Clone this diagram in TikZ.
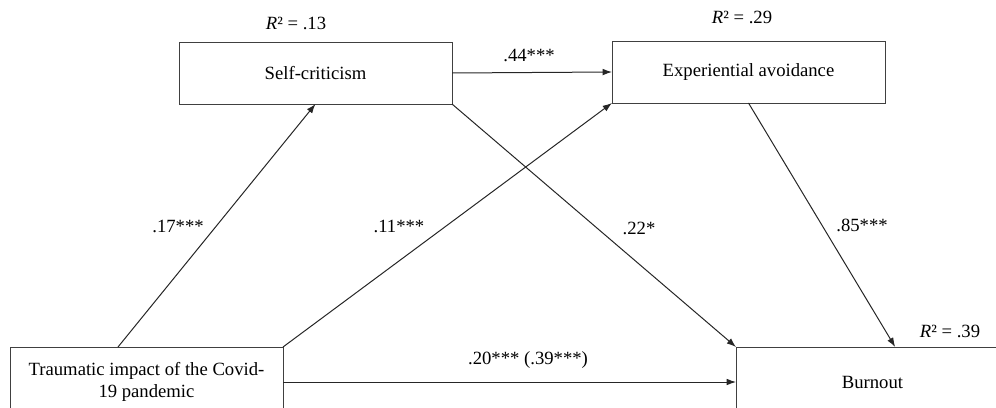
\documentclass[tikz,border=0pt]{standalone}
\usepackage{fontspec}
\setmainfont{Liberation Serif}
\usetikzlibrary{arrows.meta}

\begin{document}
\begin{tikzpicture}[x=0.75pt,y=-0.75pt,>={Latex[length=7pt,width=5pt]},
      font=\fontsize{14}{17}\selectfont,
      box/.style={draw=black!75,line width=0.75pt,minimum width=204.75pt,minimum height=46.5pt,
                  inner sep=0pt,outer sep=0pt,align=center,anchor=north west},
      ar/.style={->,line width=0.75pt,draw=black!85},
      coef/.style={inner sep=1pt}]
    \useasboundingbox (0,0) rectangle (996,407);
    \clip (0,0) rectangle (996,407);
    \node[box] (selfcrit) at (179,42) {Self-criticism};
    \node[box] (avoid) at (612,41) {Experiential avoidance};
    \node[box,minimum height=52.5pt] (trauma) at (10,347) {Traumatic impact of the Covid-\\19 pandemic};
    \node[box,minimum height=52.5pt] (burnout) at (736,347) {Burnout};
    % R squared above the outcomes
    \node[coef] (r2sc) at (296,23) {\textit{R}² = .13};
    \node[coef] (r2av) at (742,17) {\textit{R}² = .29};
    \node[coef] (r2bo) at (950,331) {\textit{R}² = .39};
    % paths
    \draw[ar] ([xshift=81pt]trauma.north west) -- (selfcrit.south);
    \draw[ar] (trauma.north east) -- (avoid.south west);
    \draw[ar] (selfcrit.east) -- (avoid.west);
    \draw[ar] (selfcrit.south east) -- (burnout.north west);
    \draw[ar] (avoid.south) -- ([xshift=17pt]burnout.north);
    \draw[ar] (trauma.east) -- (burnout.west);
    % coefficients
    \node[coef] (b44) at (529,55) {.44***};
    \node[coef] (b17) at (178,226) {.17***};
    \node[coef] (b11) at (399,226) {.11***};
    \node[coef] (b22) at (639,228) {.22*};
    \node[coef] (b85) at (862,225) {.85***};
    \node[coef] (b20) at (528,360) {.20*** (.39***)};
  \end{tikzpicture}
\end{document}
